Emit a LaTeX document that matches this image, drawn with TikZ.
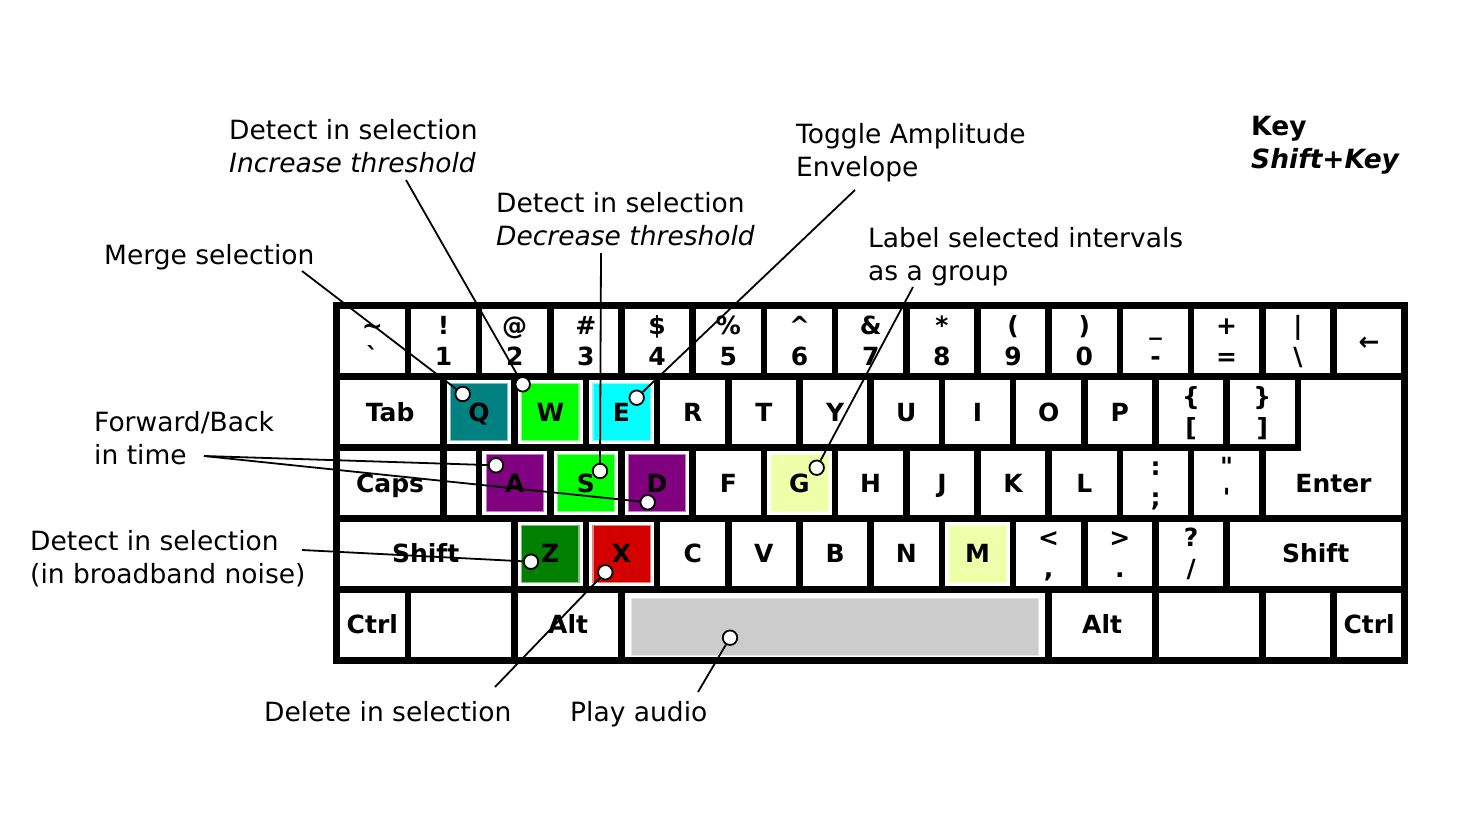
\documentclass[tikz,border=0pt]{standalone}
\usepackage{fontspec}
\setmainfont{DejaVu Sans}[ItalicFont={DejaVu Sans Oblique},BoldFont={DejaVu Sans Bold},BoldItalicFont={DejaVu Sans Bold Oblique}]
\definecolor{qteal}{HTML}{008080}
\definecolor{wlime}{HTML}{00FF00}
\definecolor{ecyan}{HTML}{00FFFF}
\definecolor{apurple}{HTML}{800080}
\definecolor{gpale}{HTML}{EEFFAA}
\definecolor{zgreen}{HTML}{008000}
\definecolor{xred}{HTML}{D40000}
\definecolor{spacegray}{HTML}{CCCCCC}
\begin{document}
\begin{tikzpicture}[x=1pt, y=-1pt,
        keycap/.style={draw, fill=white, line width=6.7pt},
        keytint/.style={fill=#1, draw=#1!50!white, line width=1.2pt},
        keylab/.style={font=\bfseries\fontsize{25}{31}\selectfont, inner sep=0pt, text height=18.2pt, text depth=0pt},
        uplab/.style={keylab, anchor=base, yshift=7pt},
        lowlab/.style={keylab, anchor=base, yshift=-24pt},
        note/.style={font=\fontsize{26.5}{33}\selectfont, inner sep=0pt, anchor=base west, align=left},
        link/.style={line width=1.8pt},
        dot/.style={circle, draw, fill=white, line width=1.8pt, minimum size=14.5pt, inner sep=0pt}]
        \useasboundingbox (0,0) rectangle (1484,819);

        % keyboard, one unit per key
        \begin{scope}[shift={(336.7,305.7)}, x=71.2pt, y=-70.9pt]
        % number row
        \foreach \t/\b [count=\i from 0] in {\textasciitilde/\textasciigrave, !/1, @/2, \#/3, \$/4, \%/5, \textasciicircum/6, \&/7, */8, {(}/9, {)}/0, \_/-, +/=, |/\textbackslash} {
            \draw[keycap] (\i,0) rectangle ++(1,1);
            \node[uplab] (up\i) at (\i+0.5,0.5) {\t};
            \node[lowlab] (low\i) at (\i+0.5,0.5) {\b};
        }
        \draw[keycap] (14,0) rectangle ++(1,1);
        \node[keylab] (back) at (14.5,0.5) {←};

        % top letter row
        \draw[keycap] (0,1) rectangle ++(1.5,1);
        \node[keylab] (tab) at (0.75,1.5) {Tab};
        \foreach \l/\c [count=\i from 0] in {Q/qteal, W/wlime, E/ecyan, R/white, T/white, Y/white, U/white, I/white, O/white, P/white} {
            \draw[keycap] (1.5+\i,1) rectangle ++(1,1);
            \fill[keytint=\c] ([shift={(7pt,-7pt)}]1.5+\i,1) rectangle ([shift={(-7pt,7pt)}]2.5+\i,2);
            \node[keylab] (key\l) at (2+\i,1.5) {\l};
        }
        \foreach \t/\b [count=\i from 11] in {{\{}/{[}, {\}}/{]}} {
            \draw[keycap] (0.5+\i,1) rectangle ++(1,1);
            \node[uplab] (up\i) at (1+\i,1.5) {\t};
            \node[lowlab] (low\i) at (1+\i,1.5) {\b};
        }

        % home row
        \draw[keycap] (0,2) rectangle ++(1.5,1);
        \node[keylab] (caps) at (0.75,2.5) {Caps};
        \draw[keycap] (1.5,2) rectangle ++(0.5,1);
        \foreach \l/\c [count=\i from 0] in {A/apurple, S/wlime, D/apurple, F/white, G/gpale, H/white, J/white, K/white, L/white} {
            \draw[keycap] (2+\i,2) rectangle ++(1,1);
            \fill[keytint=\c] ([shift={(7pt,-7pt)}]2+\i,2) rectangle ([shift={(-7pt,7pt)}]3+\i,3);
            \node[keylab] (key\l) at (2.5+\i,2.5) {\l};
        }
        \foreach \t/\b [count=\i from 11] in {{:}/{;}, {\textquotedbl}/{\textquotesingle}} {
            \draw[keycap] (\i,2) rectangle ++(1,1);
            \node[uplab] (up\i) at (0.5+\i,2.5) {\t};
            \node[lowlab] (low\i) at (0.5+\i,2.5) {\b};
        }
        \draw[keycap] (13.5,1) -- (15,1) -- (15,3) -- (13,3) -- (13,2) -- (13.5,2) -- cycle;
        \node[keylab] (enter) at (14,2.5) {Enter};

        % bottom letter row
        \draw[keycap] (0,3) rectangle ++(2.5,1);
        \node[keylab] (lshift) at (1.25,3.5) {Shift};
        \foreach \l/\c [count=\i from 0] in {Z/zgreen, X/xred, C/white, V/white, B/white, N/white, M/gpale} {
            \draw[keycap] (2.5+\i,3) rectangle ++(1,1);
            \fill[keytint=\c] ([shift={(7pt,-7pt)}]2.5+\i,3) rectangle ([shift={(-7pt,7pt)}]3.5+\i,4);
            \node[keylab] (key\l) at (3+\i,3.5) {\l};
        }
        \foreach \t/\b [count=\i from 9] in {{<}/{,}, {>}/{.}, {?}/{/}} {
            \draw[keycap] (0.5+\i,3) rectangle ++(1,1);
            \node[uplab] (up\i) at (1+\i,3.5) {\t};
            \node[lowlab] (low\i) at (1+\i,3.5) {\b};
        }
        \draw[keycap] (12.5,3) rectangle ++(2.5,1);
        \node[keylab] (rshift) at (13.75,3.5) {Shift};

        % space row
        \draw[keycap] (0,4) rectangle ++(1,1);
        \node[keylab] (lctrl) at (0.5,4.5) {Ctrl};
        \draw[keycap] (1,4) rectangle ++(1.5,1);
        \draw[keycap] (2.5,4) rectangle ++(1.5,1);
        \node[keylab] (lalt) at (3.25,4.5) {Alt};
        \draw[keycap] (4,4) rectangle ++(6,1);
        \fill[keytint=spacegray] ([shift={(10pt,-9pt)}]4,4) rectangle ([shift={(-10pt,5pt)}]10,5);
        \draw[keycap] (10,4) rectangle ++(1.5,1);
        \node[keylab] (ralt) at (10.75,4.5) {Alt};
        \draw[keycap] (11.5,4) rectangle ++(1.5,1);
        \draw[keycap] (13,4) rectangle ++(1,1);
        \draw[keycap] (14,4) rectangle ++(1,1);
        \node[keylab] (rctrl) at (14.5,4.5) {Ctrl};
        \end{scope}

        % descriptions (base = last line)
        \node[note] (incr) at (229,172) {Detect in selection\\\textit{Increase threshold}};
        \node[note] (merge) at (104,264) {Merge selection};
        \node[note] (decr) at (496,245) {Detect in selection\\\textit{Decrease threshold}};
        \node[note] (toggle) at (796,176) {Toggle Amplitude\\Envelope};
        \node[note] (group) at (868,280) {Label selected intervals\\as a group};
        \node[note, font=\bfseries\fontsize{26.5}{33}\selectfont] (legend) at (1251,168) {Key\\\textit{Shift+Key}};
        \node[note] (fwd) at (94,464) {Forward/Back\\in time};
        \node[note] (broad) at (30,583) {Detect in selection\\(in broadband noise)};
        \node[note] (del) at (264,721) {Delete in selection};
        \node[note] (play) at (570,721) {Play audio};

        \coordinate (merge-end) at (302,271);
        \coordinate (incr-end) at (406,180);
        \coordinate (decr-end) at (601,253);
        \coordinate (toggle-end) at (855,190);
        \coordinate (group-end) at (913,287);
        \coordinate (fwd-end) at (204,456);
        \coordinate (broad-end) at (302,550);
        \coordinate (del-end) at (495,687);
        \coordinate (play-end) at (698,692);

        \node[dot] (dotQ) at (462.7,394) {};
        \node[dot] (dotW) at (522.7,384.3) {};
        \node[dot] (dotE) at (636.7,397.7) {};
        \node[dot] (dotA) at (496,465.3) {};
        \node[dot] (dotS) at (600,471) {};
        \node[dot] (dotD) at (647.7,502.3) {};
        \node[dot] (dotG) at (816.7,467.7) {};
        \node[dot] (dotZ) at (531,561.7) {};
        \node[dot] (dotX) at (605.3,572.3) {};
        \node[dot] (dotSpace) at (730,637.7) {};

        \draw[link] (merge-end) -- (dotQ);
        \draw[link] (incr-end) -- (dotW);
        \draw[link] (decr-end) -- (dotS);
        \draw[link] (toggle-end) -- (dotE);
        \draw[link] (group-end) -- (dotG);
        \draw[link] (fwd-end) -- (dotA);
        \draw[link] (fwd-end) -- (dotD);
        \draw[link] (broad-end) -- (dotZ);
        \draw[link] (del-end) -- (dotX);
        \draw[link] (play-end) -- (dotSpace);
    \end{tikzpicture}
\end{document}
